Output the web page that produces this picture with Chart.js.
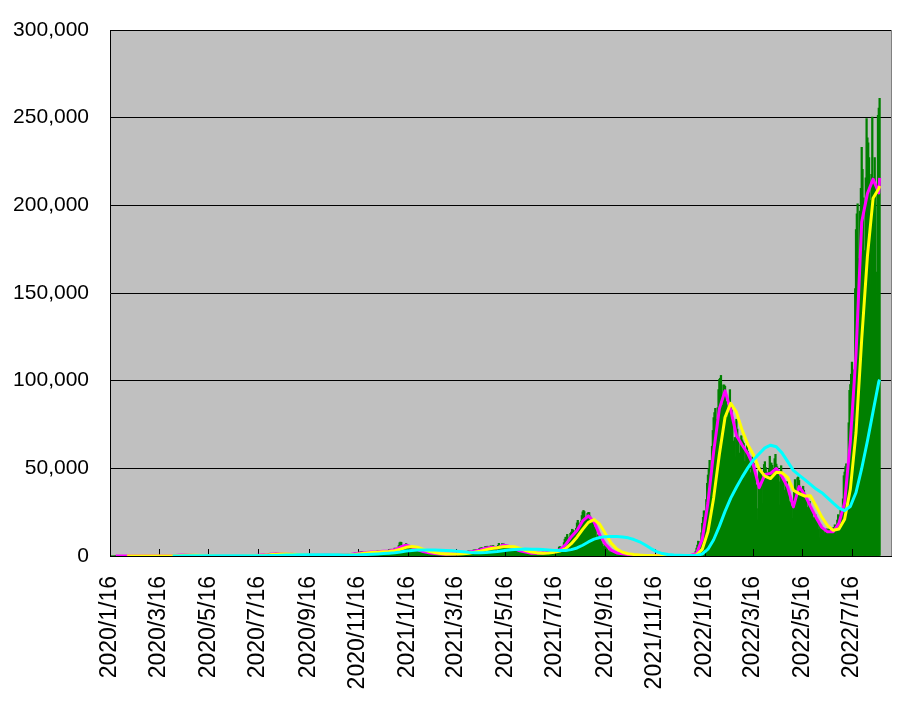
<!DOCTYPE html>
<html>
<head>
<meta charset="utf-8">
<script src="https://cdn.jsdelivr.net/npm/chart.js@4.4.1/dist/chart.umd.min.js"></script>
<style>
  body { margin: 0; background: #fff; }
</style>
</head>
<body>
<canvas id="myChart" width="917" height="706"></canvas>
<script>
// daily new cases, one value per day from 2020/1/16 to 2022/8/19
const dailyCases = [
  // 2020
  1,0,0,0,0,0,0,1,1,0,1,0,3,2,4,2,
  2,0,1,1,3,0,1,2,1,0,2,3,5,1,7,8,9,7,3,10,9,22,15,12,17,17,21,25,17,
  15,20,18,35,32,40,40,30,35,55,50,60,40,45,60,30,15,40,40,35,40,55,40,35,65,95,100,120,75,90,200,
  260,230,290,370,380,250,350,500,560,700,700,550,400,460,540,580,560,570,370,350,320,450,450,440,350,220,180,200,150,190,
  160,230,200,120,70,100,90,110,80,60,90,60,60,70,40,50,20,30,35,45,30,25,20,20,15,25,35,40,50,40,30,
  35,40,45,30,40,35,40,50,45,40,45,40,45,55,65,60,40,40,60,70,60,50,60,60,60,110,100,100,90,80,
  120,190,250,270,210,100,210,200,250,420,390,410,250,330,450,590,630,650,520,420,630,800,980,790,840,590,600,980,1260,1310,1580,
  1540,1330,950,1240,1370,1500,1580,1560,1440,890,700,970,1180,1300,1210,1040,690,610,1100,1180,1240,1040,800,680,910,990,880,830,760,580,460,
  550,600,630,600,480,400,420,520,600,540,610,430,340,270,480,550,530,510,480,300,200,400,560,500,550,470,460,360,400,550,
  620,580,520,460,320,540,490,600,620,600,300,390,600,690,700,620,430,380,520,610,640,560,780,480,750,640,710,760,850,750,610,
  460,550,650,1050,1000,1050,1300,1100,950,1280,1540,1660,1700,1440,1450,1300,1700,2200,2400,2400,2500,2150,1520,1230,1920,2500,2520,2680,2040,1430,
  2000,2420,2500,2440,2500,2070,1950,2000,2800,2800,2950,3050,2400,1700,2400,3200,3000,2830,2990,2460,1740,2730,3250,3700,3810,3880,2940,2390,3600,3850,4520,
  // 2021
  3160,3060,3140,4900,6000,7560,7940,7800,6050,4930,4870,5860,6610,7130,6600,5760,3870,3880,5300,5500,5100,4590,3620,3990,1990,3860,3960,3540,3340,2600,2310,
  1800,2550,2630,2590,2370,2290,1950,1530,1570,1880,1480,1780,1380,1110,1080,1690,1340,1460,1170,1230,1320,830,1080,1080,1170,1080,990,1020,
  720,1050,1290,1170,1140,1060,1060,610,1130,1320,1310,1280,1330,1040,820,1300,1520,1600,1480,1500,1120,820,1520,1910,1920,2060,2080,1780,1220,2080,2840,
  2780,2760,2760,2470,1570,2650,3450,3450,3460,3700,2780,2100,3450,4300,4580,4530,4800,4090,2840,4300,5290,5500,5110,5600,4600,3320,4900,5800,5700,4700,
  6000,4420,4180,3940,4560,4300,6050,7240,6050,4700,5800,7060,7000,6870,6420,5230,3660,5220,5700,5730,5040,4940,4070,2710,4250,4280,4210,3800,3880,2690,1790,
  2940,3080,2800,2810,2660,2230,1330,2300,2300,1960,1930,1940,1390,930,1450,1770,1720,1610,1580,1290,1000,1420,1830,1780,1660,1660,1370,1050,1430,1830,
  2230,2040,1890,1660,1600,1960,2440,3090,3070,3120,2410,1270,2020,3460,3240,3800,3300,2800,1500,3040,5070,5370,4220,3880,5030,4690,7630,9570,10700,10750,12340,
  8390,8240,10850,12940,13630,15260,14870,10780,12090,14450,15810,18860,20340,18860,17900,14810,19930,23080,25150,25990,25380,21540,16810,21430,24300,24850,24800,22790,19010,14350,20150,
  18620,16580,15670,15220,10400,7870,12070,12370,10460,9310,8170,6890,5450,4820,6640,5410,5130,4170,3080,1830,2130,3880,3390,2090,1890,1740,1440,1290,1980,1710,
  1790,1450,1370,1180,620,1470,1070,1370,880,670,370,900,790,640,630,530,430,430,530,430,600,360,320,260,150,360,250,390,300,210,200,
  140,220,210,150,160,210,140,140,160,220,180,180,220,140,120,200,140,140,160,130,180,130,90,120,130,110,130,110,120,90,
  110,140,140,170,100,160,170,200,180,150,110,130,150,190,190,200,170,160,180,150,120,240,200,200,270,200,240,200,350,500,550,
  // 2022
  460,550,680,1090,2640,4480,6210,8480,8250,6410,5920,13240,18670,22050,25740,25640,20000,32200,41480,46200,49850,54580,50000,48000,62600,71600,78930,81800,84220,78000,63000,
  84620,94900,100800,101400,103000,86000,75500,97600,97500,96800,88300,86400,79000,61800,85300,94900,87100,83200,79000,65600,51600,67600,56500,78000,72400,68000,58700,44400,
  64800,68600,66200,65100,64200,53900,41900,61200,63000,59600,57000,56900,47500,34800,54000,56500,52800,50300,44300,40600,27000,20500,41000,49000,50300,48500,45700,29800,44800,52200,53800,
  50500,47800,43700,28300,49600,56900,53000,53000,51700,46800,32000,55500,58000,52400,50900,47500,42300,29000,48500,51500,47800,44300,42500,37500,26600,41900,42400,39100,34600,31000,
  30800,20600,28600,21500,29100,36400,43600,37800,26400,44600,45100,43100,39600,38500,34200,21900,39800,37500,34000,31900,31400,27700,17700,30400,31200,27700,25900,25600,21800,13700,22300,
  23600,20300,19500,18000,15300,10300,17300,17700,16000,15200,14900,13300,8000,15000,15500,14500,14100,15500,13200,8200,14000,16000,15900,16200,17800,16800,12200,20500,23600,22800,
  23000,26000,22400,15400,32600,45800,47900,51000,52600,47900,36300,76000,94500,97800,103700,110600,106200,71400,76700,152500,186200,195100,200900,169700,128500,196700,209700,233100,220500,204300,174200,
  144000,215700,249500,238500,235700,227200,202900,154800,217700,250400,216000,200500,227300,209400,143100,162000,251300,255500,261000
];

const avg7 = [null,
  0,2,1,2,6,16,23,44,39,52,
  154,386,561,439,247,139,76,36,26,39,
  42,49,60,113,213,406,661,910,1359,1189,
  1019,934,630,509,459,421,487,501,557,537,
  710,724,1269,1741,2031,2227,2366,2671,2814,3570,
  5109,6179,5144,3650,2546,1867,1406,1126,1046,1090,
  1270,1467,2120,2730,3481,4479,5004,4586,6271,5547,
  4214,2997,2227,1590,1501,1604,2097,2656,3554,6531,
  11020,14589,20010,22900,19471,12009,6670,3373,1734,1279,
  803,511,299,204,173,163,134,116,160,160,
  174,280,1493,9597,30473,59366,83906,94157,83257,68786,
  63300,58414,51357,38957,46443,47114,49914,45357,39186,28029,
  39571,35071,28286,21886,16300,13771,13843,18557,30443,65157,
  115329,190529,206671,214957,207014,
  215657
];

const avg21 = [null, null, null,
  1,2,3,8,15,28,35,45,
  82,197,367,462,416,275,154,84,46,34,
  36,43,50,74,129,244,427,659,977,1153,
  1189,1047,861,691,533,463,456,470,515,532,
  601,657,901,1245,1680,2000,2208,2421,2617,3018,
  3831,4953,5477,4991,3780,2688,1940,1466,1193,1087,
  1135,1276,1619,2106,2777,3563,4321,4690,5287,5468,
  5344,4253,3146,2271,1773,1565,1734,2119,2769,4247,
  7035,10713,15206,19166,20794,18127,12717,7351,3926,2129,
  1272,864,538,338,225,180,157,138,137,145,
  165,205,649,3790,13854,33145,57915,79143,87107,82067,
  71781,63500,57690,49576,45586,44171,47824,47462,44819,37524,
  35595,34224,34309,28414,22157,17319,14638,15390,20948,38052,
  70310,123672,170843,204052,209547,
  211000
];

const avg75 = [null, null, null, null, null, null, null, null, null, null, null,
  31,66,117,157,179,191,196,198,196,196,
  195,185,156,115,95,109,156,232,353,458,
  547,628,681,722,754,772,780,765,733,658,
  615,588,619,720,858,1019,1195,1394,1604,1878,
  2294,2791,3193,3409,3482,3468,3393,3280,3132,2976,
  2767,2436,2067,1847,1832,2007,2293,2582,3049,3459,
  3743,3900,3969,3921,3809,3638,3422,3208,3114,3138,
  3636,4579,6125,8005,9630,10586,11046,11162,11078,10871,
  10351,9395,8096,6296,4230,2474,1395,799,507,364,
  263,216,305,1150,3902,9283,16896,25444,33002,39241,
  44981,50275,54919,58325,61674,63187,62328,58823,53826,48805,
  46149,43583,40844,38165,36105,33135,30110,27260,25904,28265,
  36201,49925,65525,82495,99325,
  100600
];

const yMax = 300000;
const yStep = 50000;

// one category per day, the axis runs to 2022/9/2
const labels = [];
for (let i = 0; i <= 960; i++) {
  const d = new Date(2020, 0, 16 + i);
  labels.push(d.getFullYear() + '/' + (d.getMonth() + 1) + '/' + d.getDate());
}

const weekDates = [];
for (let i = 0; i < dailyCases.length; i += 7) weekDates.push(labels[i]);
weekDates.push(labels[dailyCases.length - 1]);

function toPoints(values) {
  return weekDates.map((d, i) => ({ x: d, y: values[i] }));
}

// labels shown on the 16th of every other month
function isTickDate(label) {
  const p = label.split('/');
  return p[2] === '16' && Number(p[1]) % 2 === 1;
}

const plotArea = {
  id: 'plotArea',
  beforeDraw(chart) {
    const { ctx, chartArea: a } = chart;
    ctx.save();
    ctx.fillStyle = '#c0c0c0';
    ctx.fillRect(a.left, a.top, a.right - a.left, a.bottom - a.top);
    ctx.restore();
  },
  afterDatasetDraw(chart, args) {
    if (args.index !== 0) return;
    const { ctx, chartArea: a, scales: { x } } = chart;
    ctx.save();
    ctx.strokeStyle = '#000';
    ctx.lineWidth = 1;
    ctx.beginPath();
    x.ticks.forEach((t, i) => {
      const px = Math.round(x.getPixelForTick(i)) + 0.5;
      ctx.moveTo(px, a.bottom);
      ctx.lineTo(px, a.bottom - 7);
    });
    ctx.stroke();
    ctx.restore();
  },
  afterDraw(chart) {
    const { ctx, chartArea: a } = chart;
    ctx.save();
    ctx.strokeStyle = '#808080';
    ctx.lineWidth = 1;
    ctx.beginPath();
    ctx.moveTo(a.right + 0.5, a.top);
    ctx.lineTo(a.right + 0.5, a.bottom);
    ctx.stroke();
    ctx.restore();
  }
};

const ctx = document.getElementById('myChart');

new Chart(ctx, {
  data: {
    labels: labels,
    datasets: [
      {
        type: 'bar',
        data: dailyCases,
        backgroundColor: '#008000',
        barThickness: 1.6,
        order: 4
      },
      {
        type: 'line',
        data: toPoints(avg7),
        borderColor: '#ff00ff',
        borderWidth: 3,
        pointRadius: 0,
        borderJoinStyle: 'round',
        spanGaps: true,
        order: 3
      },
      {
        type: 'line',
        data: toPoints(avg21),
        borderColor: '#ffff00',
        borderWidth: 3,
        pointRadius: 0,
        borderJoinStyle: 'round',
        spanGaps: true,
        order: 2
      },
      {
        type: 'line',
        data: toPoints(avg75),
        borderColor: '#00ffff',
        borderWidth: 3,
        pointRadius: 0,
        borderJoinStyle: 'round',
        spanGaps: true,
        order: 1
      }
    ]
  },
  options: {
    responsive: false,
    animation: false,
    layout: { padding: { top: 30, right: 26, left: 0, bottom: 0 } },
    plugins: {
      legend: { display: false },
      tooltip: { enabled: false }
    },
    scales: {
      x: {
        offset: false,
        grid: { display: false, drawTicks: false },
        border: { color: '#000', width: 1 },
        ticks: {
          autoSkip: false,
          maxRotation: 90,
          minRotation: 90,
          padding: 20,
          color: '#000',
          font: { family: 'Liberation Sans, Arial, sans-serif', size: 23 }
        },
        afterBuildTicks(scale) {
          scale.ticks = scale.ticks.filter(t => isTickDate(labels[t.value]));
        },
        afterFit(scale) {
          scale.height = 150;
        }
      },
      y: {
        min: 0,
        max: yMax,
        ticks: {
          stepSize: yStep,
          padding: 21,
          color: '#000',
          font: { family: 'Liberation Sans, Arial, sans-serif', size: 21 },
          callback: v => v.toLocaleString('en-US')
        },
        grid: { color: '#000', drawTicks: false },
        border: { color: '#000', width: 1 },
        afterFit(scale) {
          scale.width = 110;
          scale.paddingTop = 0;
          scale.paddingBottom = 0;
        }
      }
    }
  },
  plugins: [plotArea]
});
</script>
</body>
</html>
